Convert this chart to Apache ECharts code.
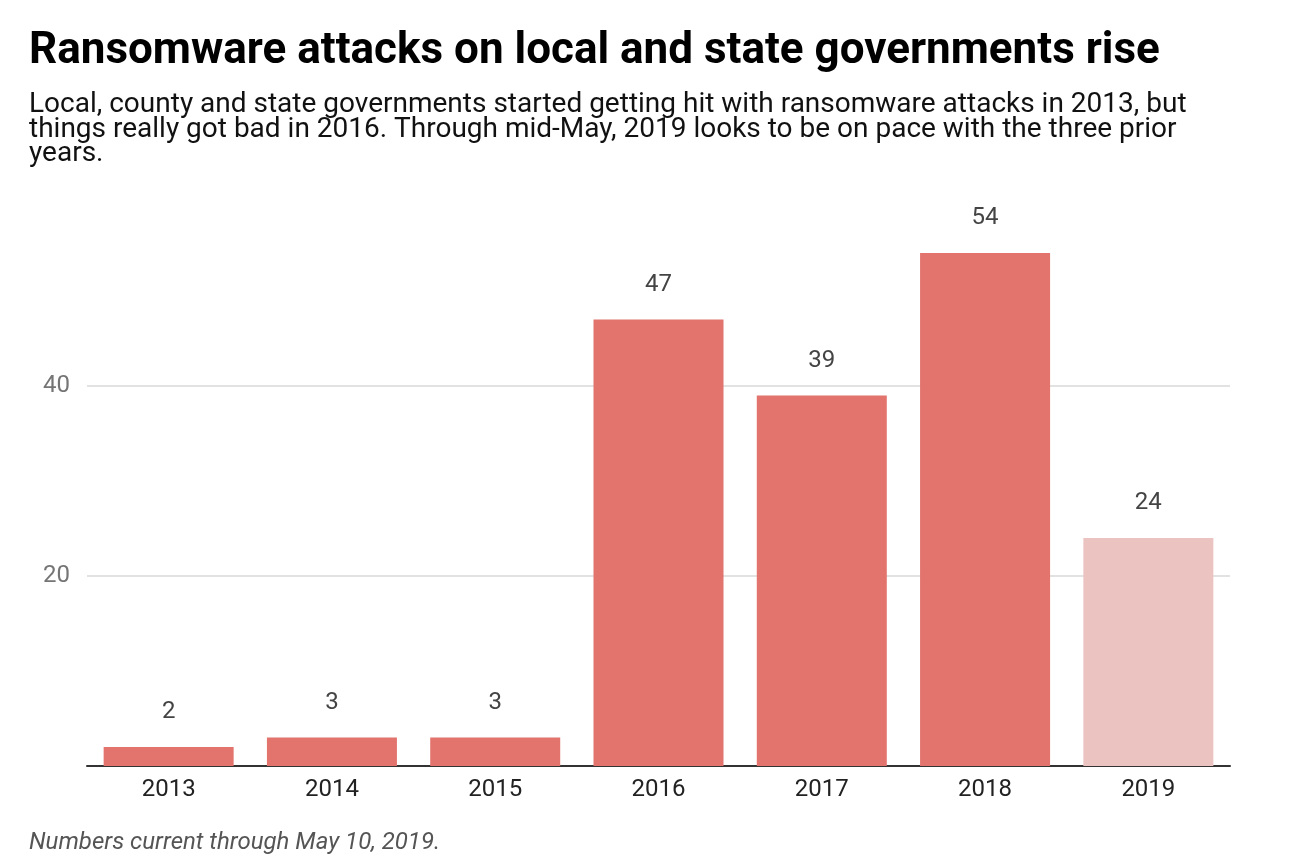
<!DOCTYPE html>
<html>
<head>
<meta charset="utf-8">
<title>Ransomware attacks on local and state governments rise</title>
<script src="https://cdn.jsdelivr.net/npm/echarts@6/dist/echarts.min.js"></script>
<style>
    html, body { margin: 0; padding: 0; background: #ffffff; }
    #chart { width: 1308px; height: 866px; }
</style>
</head>
<body>
<div id="chart"></div>
<script>
// ---- data ----
var years = ['2013', '2014', '2015', '2016', '2017', '2018', '2019'];
var attacks = [2, 3, 3, 47, 39, 54, 24];
// 2019 is a partial year (through May 10), drawn lighter
var partialYear = '2019';

var BAR_COLOR = '#e2736d';
var PARTIAL_COLOR = '#ebc4c2';
var FONT = 'Roboto, "Noto Sans", sans-serif';

var chart = echarts.init(document.getElementById('chart'));

var barData = years.map(function(y, i) {
    return {
        value: attacks[i],
        itemStyle: { color: y === partialYear ? PARTIAL_COLOR : BAR_COLOR }
    };
});

var option = {
    backgroundColor: '#ffffff',
    animation: false,
    title: [
        {
            text: 'Ransomware attacks on local and state governments rise',
            left: 29,
            top: 30,
            padding: 0,
            textStyle: { fontFamily: FONT, fontSize: 44, fontWeight: 'bold', color: '#000000', lineHeight: 44 }
        },
        {
            text: 'Local, county and state governments started getting hit with ransomware attacks in 2013, but\n' +
                  'things really got bad in 2016. Through mid-May, 2019 looks to be on pace with the three prior\n' +
                  'years.',
            left: 29,
            top: 93,
            padding: 0,
            textStyle: { fontFamily: FONT, fontSize: 28, fontWeight: 'normal', color: '#111111', lineHeight: 24.5 }
        },
        {
            text: 'Numbers current through May 10, 2019.',
            left: 29,
            top: 831,
            padding: 0,
            textStyle: { fontFamily: FONT, fontSize: 24, fontWeight: 'normal', fontStyle: 'italic', color: '#555555', lineHeight: 24 }
        }
    ],
    grid: {
        left: 87,
        right: 78,
        top: 196,
        bottom: 100,
        containLabel: false
    },
    xAxis: {
        type: 'category',
        data: years,
        axisTick: { show: false },
        axisLine: { lineStyle: { color: '#333333', width: 2 } },
        axisLabel: { fontFamily: FONT, fontSize: 24, color: '#222222', margin: 12 }
    },
    yAxis: {
        type: 'value',
        min: 0,
        max: 60,
        interval: 20,
        axisLine: { show: false },
        axisTick: { show: false },
        axisLabel: {
            fontFamily: FONT, fontSize: 24, color: '#757575', margin: 17,
            showMinLabel: false, showMaxLabel: false
        },
        splitLine: {
            showMinLine: false,
            showMaxLine: false,
            lineStyle: { color: '#d9d9d9', width: 1.5 }
        }
    },
    series: [{
        type: 'bar',
        data: barData,
        barWidth: 130,
        label: {
            show: true,
            position: 'top',
            distance: 23,
            fontFamily: FONT,
            fontSize: 24,
            color: '#444444'
        }
    }]
};

chart.setOption(option);
</script>
</body>
</html>
